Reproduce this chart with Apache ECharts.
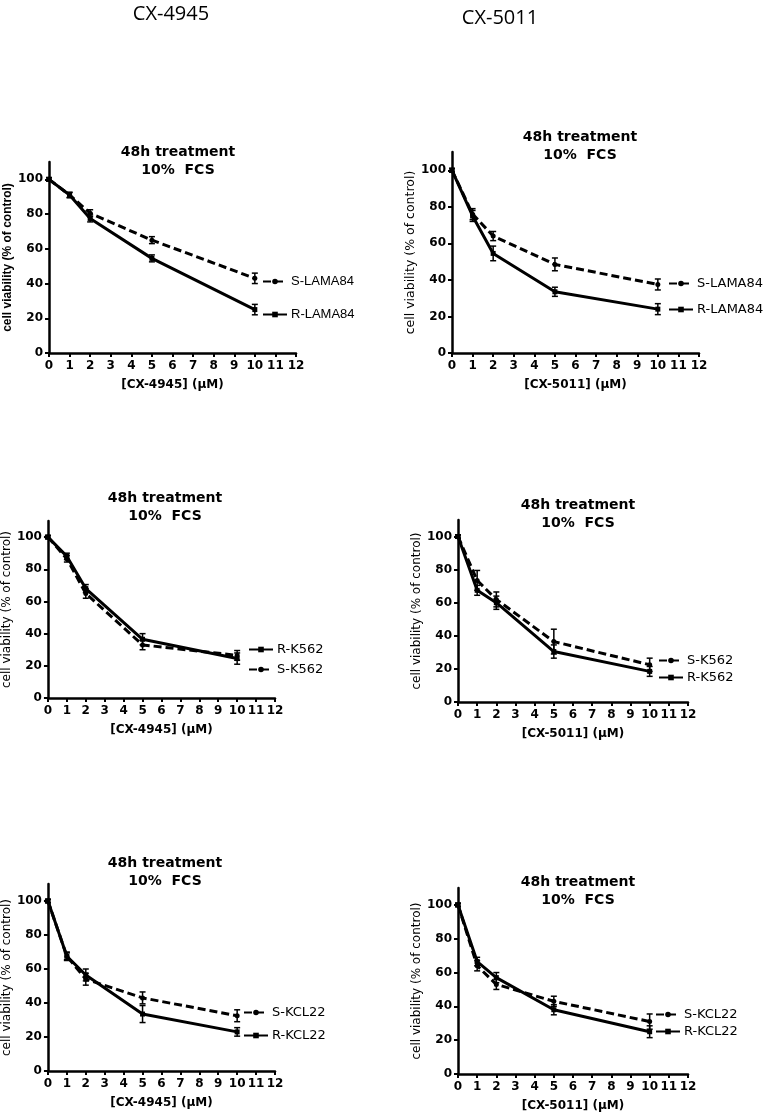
<!DOCTYPE html>
<html>
<head>
<meta charset="utf-8">
<script src="https://cdn.jsdelivr.net/npm/echarts@6/dist/echarts.min.js"></script>
<style>
  html, body { margin: 0; padding: 0; background: #fff; }
  #chart { width: 775px; height: 1113px; }
</style>
</head>
<body>
<div id="chart"></div>
<script>
// doses (µM), same for every panel
const doses = [0, 1, 2, 5, 10];
const yTickValues = [0, 20, 40, 60, 80, 100];

// CX-4945 / LAMA84
const sLama4945 = [100, 91, 80.5, 65, 43];
const sLama4945Err = [1, 1.5, 2, 2, 3];
const rLama4945 = [100, 91, 77.5, 54.5, 25];
const rLama4945Err = [1, 1.5, 2, 2, 3];
// CX-5011 / LAMA84
const sLama5011 = [100, 76, 64, 48.5, 37.5];
const sLama5011Err = [1, 3, 2.5, 3.5, 3];
const rLama5011 = [100, 75, 54.5, 33.5, 24];
const rLama5011Err = [1, 3, 4, 2.5, 3];
// CX-4945 / K562
const rK562_4945 = [100, 88, 68, 36.5, 24.5];
const rK562_4945Err = [1, 2, 2.5, 3.5, 3.5];
const sK562_4945 = [100, 86.5, 65, 33, 26.5];
const sK562_4945Err = [1, 2, 3, 3, 3];
// CX-5011 / K562
const sK562_5011 = [100, 73.5, 62, 36.5, 22.5];
const sK562_5011Err = [1, 6, 4.5, 7.5, 4];
const rK562_5011 = [100, 67.5, 60, 30.5, 18.5];
const rK562_5011Err = [1, 3, 4, 4, 3];
// CX-4945 / KCL22
const sKcl4945 = [100, 67.5, 54, 43, 32.5];
const sKcl4945Err = [1, 2.5, 3.5, 3.5, 3.5];
const rKcl4945 = [100, 67.5, 56.5, 33.5, 23];
const rKcl4945Err = [1, 2, 3.5, 5, 2.5];
// CX-5011 / KCL22
const sKcl5011 = [100, 64, 53, 43, 31];
const sKcl5011Err = [1, 3, 3, 3, 4.5];
const rKcl5011 = [100, 66.5, 57, 38, 25];
const rKcl5011Err = [1, 2.5, 3, 3, 3.5];

const panelTitle = '48h treatment\n10%  FCS';
const yName = 'cell viability (% of control)';

// layout of the six panels
const panels = [
  { grid: { left: 49, top: 162, width: 247, height: 191 }, tx: 173, ty: 138, xName: '[CX-4945] (μM)', yFont: { family: 'Liberation Sans', size: 12, weight: 'bold' }, legFont: 'Liberation Sans',
    lines: [
      { name: 'S-LAMA84', v: sLama4945, e: sLama4945Err, dashed: true, lx: 262, ly: 282 },
      { name: 'R-LAMA84', v: rLama4945, e: rLama4945Err, dashed: false, lx: 262, ly: 315 }
    ] },
  { grid: { left: 452, top: 152, width: 247, height: 201 }, tx: 575, ty: 123, xName: '[CX-5011] (μM)', yFont: { family: 'DejaVu Sans', size: 12.5, weight: 'normal' }, legFont: 'DejaVu Sans',
    lines: [
      { name: 'S-LAMA84', v: sLama5011, e: sLama5011Err, dashed: true, lx: 668, ly: 284 },
      { name: 'R-LAMA84', v: rLama5011, e: rLama5011Err, dashed: false, lx: 668, ly: 310 }
    ] },
  { grid: { left: 45, top: 521, width: 230, height: 177 }, tx: 160, ty: 484, xName: '[CX-4945] (μM)', yFont: { family: 'DejaVu Sans', size: 12, weight: 'normal' }, legFont: 'DejaVu Sans',
    lines: [
      { name: 'R-K562', v: rK562_4945, e: rK562_4945Err, dashed: false, lx: 248, ly: 650 },
      { name: 'S-K562', v: sK562_4945, e: sK562_4945Err, dashed: true, lx: 248, ly: 670 }
    ] },
  { grid: { left: 458, top: 520, width: 230, height: 182 }, tx: 573, ty: 491, xName: '[CX-5011] (μM)', yFont: { family: 'DejaVu Sans', size: 12, weight: 'normal' }, legFont: 'DejaVu Sans',
    lines: [
      { name: 'S-K562', v: sK562_5011, e: sK562_5011Err, dashed: true, lx: 658, ly: 661 },
      { name: 'R-K562', v: rK562_5011, e: rK562_5011Err, dashed: false, lx: 658, ly: 678 }
    ] },
  { grid: { left: 45, top: 884, width: 230, height: 187 }, tx: 160, ty: 849, xName: '[CX-4945] (μM)', yFont: { family: 'DejaVu Sans', size: 12, weight: 'normal' }, legFont: 'DejaVu Sans',
    lines: [
      { name: 'S-KCL22', v: sKcl4945, e: sKcl4945Err, dashed: true, lx: 243, ly: 1013 },
      { name: 'R-KCL22', v: rKcl4945, e: rKcl4945Err, dashed: false, lx: 243, ly: 1036 }
    ] },
  { grid: { left: 458, top: 888, width: 230, height: 187 }, tx: 573, ty: 868, xName: '[CX-5011] (μM)', yFont: { family: 'DejaVu Sans', size: 12, weight: 'normal' }, legFont: 'DejaVu Sans',
    lines: [
      { name: 'S-KCL22', v: sKcl5011, e: sKcl5011Err, dashed: true, lx: 655, ly: 1015 },
      { name: 'R-KCL22', v: rKcl5011, e: rKcl5011Err, dashed: false, lx: 655, ly: 1032 }
    ] }
];

const tickFont = { fontFamily: 'DejaVu Sans', fontWeight: 'bold', fontSize: 12, color: '#000' };

// error bar: vertical line with caps
function renderErrorBar(params, api) {
  const x = api.value(0);
  const lo = api.coord([x, api.value(1)]);
  const hi = api.coord([x, api.value(2)]);
  const hw = 3;
  const st = { stroke: '#000', lineWidth: 1.5 };
  return {
    type: 'group',
    children: [
      { type: 'line', shape: { x1: lo[0], y1: lo[1], x2: hi[0], y2: hi[1] }, style: st },
      { type: 'line', shape: { x1: lo[0] - hw, y1: lo[1], x2: lo[0] + hw, y2: lo[1] }, style: st },
      { type: 'line', shape: { x1: hi[0] - hw, y1: hi[1], x2: hi[0] + hw, y2: hi[1] }, style: st }
    ]
  };
}

let option = {
  backgroundColor: '#fff',
  animation: false,
  title: [
    { text: 'CX-4945', left: 166, top: -1, textAlign: 'center', textStyle: { fontFamily: 'Open Sans', fontWeight: 'normal', fontSize: 20, color: '#000' } },
    { text: 'CX-5011', left: 495, top: 3, textAlign: 'center', textStyle: { fontFamily: 'Open Sans', fontWeight: 'normal', fontSize: 20, color: '#000' } }
  ],
  grid: [],
  xAxis: [],
  yAxis: [],
  legend: [],
  series: []
};

panels.forEach((p, i) => {
  option.title.push({
    text: panelTitle, left: p.tx, top: p.ty, textAlign: 'center',
    textStyle: { fontFamily: 'DejaVu Sans', fontWeight: 'bold', fontSize: 14, lineHeight: 18, color: '#000' }
  });
  option.grid.push(p.grid);
  option.xAxis.push({
    gridIndex: i, type: 'value', min: 0, max: 12, interval: 1,
    name: p.xName, nameLocation: 'middle', nameGap: 26,
    nameTextStyle: { fontFamily: 'DejaVu Sans', fontWeight: 'bold', fontSize: 12, color: '#000' },
    axisLine: { lineStyle: { color: '#000', width: 2.5 } },
    axisTick: { length: 4, lineStyle: { color: '#000', width: 2 } },
    axisLabel: Object.assign({ margin: 7 }, tickFont),
    splitLine: { show: false }
  });
  option.yAxis.push({
    gridIndex: i, type: 'value', min: 0, max: 110, interval: 20,
    name: yName, nameLocation: 'middle', nameGap: 30,
    nameTextStyle: { fontFamily: p.yFont.family, fontWeight: p.yFont.weight, fontSize: p.yFont.size, color: '#000' },
    axisLine: { lineStyle: { color: '#000', width: 2.5 } },
    axisTick: { length: 4, lineStyle: { color: '#000', width: 2 }, customValues: yTickValues },
    axisLabel: Object.assign({ margin: 6, customValues: yTickValues }, tickFont),
    splitLine: { show: false }
  });
  p.lines.forEach(l => {
    option.series.push({
      name: l.name, type: 'line', xAxisIndex: i, yAxisIndex: i,
      data: doses.map((d, k) => [d, l.v[k]]),
      symbol: l.dashed ? 'circle' : 'rect', symbolSize: 5, showSymbol: true,
      lineStyle: { color: '#000', width: 3, type: l.dashed ? [8, 4] : 'solid' },
      itemStyle: { color: '#000' },
      z: 3
    });
    option.series.push({
      type: 'custom', xAxisIndex: i, yAxisIndex: i,
      renderItem: renderErrorBar,
      encode: { x: 0, y: [1, 2] },
      data: doses.map((d, k) => [d, l.v[k] - l.e[k], l.v[k] + l.e[k]]),
      z: 4
    });
    option.legend.push({
      data: [l.name], left: l.lx, top: l.ly - 7, padding: 0,
      itemWidth: 24, itemHeight: 7, itemGap: 0, selectedMode: false,
      textStyle: { fontFamily: p.legFont, fontSize: 13, color: '#000', padding: [0, 0, 0, -1] }
    });
  });
});

const chart = echarts.init(document.getElementById('chart'), null, { renderer: 'canvas' });
chart.setOption(option);
</script>
</body>
</html>
